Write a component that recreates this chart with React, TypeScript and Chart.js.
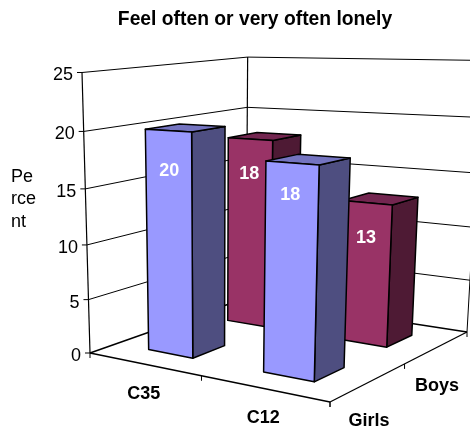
import React, { useEffect, useRef } from "react";
import { Chart, registerables } from "chart.js";

Chart.register(...registerables);

const titleText = "Feel often or very often lonely";
const categories = ["C35", "C12"];
const girls = [20, 18];
const boys = [18, 13];
const yTicks = { min: 0, max: 25, stepSize: 5 };
const axisTitleLines = ["Pe", "rce", "nt"];

type Pt = [number, number];
const FONT = '"Liberation Sans", Arial, sans-serif';

// Floor corners of the 3D box in canvas pixels, and how the value axis lifts them
const floorQuad: Pt[] = [[90, 353], [330, 402], [467, 332], [246, 298]];
const ceilingCorner: Pt = [82, 72.5];
const depthK = -0.06;

function homography(q: Pt[]) {
  const [[x0, y0], [x1, y1], [x2, y2], [x3, y3]] = q;
  const dx1 = x1 - x2, dx2 = x3 - x2, sx = x0 - x1 + x2 - x3;
  const dy1 = y1 - y2, dy2 = y3 - y2, sy = y0 - y1 + y2 - y3;
  const den = dx1 * dy2 - dx2 * dy1;
  const g = (sx * dy2 - dx2 * sy) / den;
  const h = (dx1 * sy - sx * dy1) / den;
  const a = x1 - x0 + g * x1, b = x3 - x0 + h * x3;
  const d = y1 - y0 + g * y1, e = y3 - y0 + h * y3;
  return { a, b, d, e, g, h, x0, y0 };
}
const H = homography(floorQuad);
const cx = ceilingCorner[0] * (1 + depthK) - floorQuad[0][0];
const cy = ceilingCorner[1] * (1 + depthK) - floorQuad[0][1];

const barWidthU = 0.4;
const barDepthV = 0.39;
const styles = [
  { front: "#9999FF", side: "#4E4E80", top: "#7474C0" },
  { front: "#993366", side: "#4E1A34", top: "#732650" },
];
const labelDrop = [[40, 32], [35, 35]];
const labelNudge = [[1, -2], [-1, -1]];

const box3d = {
  id: "box3d",
  afterDatasetsDraw(chart: any) {
    const ctx: CanvasRenderingContext2D = chart.ctx;
    const xs = chart.scales.x, ys = chart.scales.y;
    // u: 0..2 across categories, v: 0..2 front to back, z through the y scale
    const P = (u: number, v: number, z: number): Pt => {
      const t = (ys.bottom - ys.getPixelForValue(z)) / (ys.bottom - ys.top);
      const s = u / 2, r = v / 2;
      const w = H.g * s + H.h * r + 1 + depthK * t;
      return [
        (H.a * s + H.b * r + H.x0 + cx * t) / w,
        (H.d * s + H.e * r + H.y0 + cy * t) / w,
      ];
    };
    const line = (a: Pt, b: Pt, w = 1) => {
      ctx.lineWidth = w;
      ctx.strokeStyle = "#000";
      ctx.beginPath();
      ctx.moveTo(a[0], a[1]);
      ctx.lineTo(b[0], b[1]);
      ctx.stroke();
    };
    const poly = (pts: Pt[], fill: string) => {
      ctx.beginPath();
      pts.forEach((p, i) => (i ? ctx.lineTo(p[0], p[1]) : ctx.moveTo(p[0], p[1])));
      ctx.closePath();
      ctx.fillStyle = fill;
      ctx.fill();
      ctx.lineWidth = 1.5;
      ctx.strokeStyle = "#000";
      ctx.lineJoin = "round";
      ctx.stroke();
    };
    const nU = categories.length;
    const depthLabels = chart.data.datasets.map((d: any) => d.label);
    const nV = depthLabels.length;

    ctx.save();
    ys.ticks.forEach((tk: any) => {
      const z = tk.value;
      const a = P(0, 0, z), b = P(0, nV, z), c = P(nU, nV, z);
      line(a, b, z === 0 ? 1.5 : 1);
      line(b, c, z === 0 ? 1.5 : 1);
      line(a, [a[0] - 5, a[1]], 1);
      ctx.fillStyle = "#000";
      ctx.font = `18px ${FONT}`;
      ctx.textAlign = "right";
      ctx.textBaseline = "middle";
      ctx.fillText(String(z), a[0] - 9, a[1] + 3);
    });
    line(P(0, 0, 0), P(0, 0, ys.max), 1.2);
    line(P(0, nV, 0), P(0, nV, ys.max), 1.2);
    line(P(nU, nV, 0), P(nU, nV, ys.max), 1);
    line(P(0, 0, 0), P(nU, 0, 0), 1.3);
    line(P(nU, 0, 0), P(nU, nV, 0), 1.3);
    for (let i = 0; i <= nU; i++) {
      const p = P(i, 0, 0);
      line(p, [p[0], p[1] + 5], 1);
    }
    for (let i = 0; i <= nV; i++) {
      const p = P(nU, i, 0);
      line(p, [p[0], p[1] + 5], 1);
    }

    for (let s = nV - 1; s >= 0; s--) {
      const meta = chart.getDatasetMeta(s);
      for (let c = 0; c < nU; c++) {
        const val = meta._parsed[c].y;
        const uc = (xs.getPixelForValue(c) - xs.left) / xs.width * nU;
        const u0 = uc - barWidthU / 2, u1 = uc + barWidthU / 2;
        const v0 = s + 0.5 - barDepthV / 2, v1 = s + 0.5 + barDepthV / 2;
        const st = styles[s];
        poly([P(u1, v0, 0), P(u1, v1, 0), P(u1, v1, val), P(u1, v0, val)], st.side);
        poly([P(u0, v0, val), P(u1, v0, val), P(u1, v1, val), P(u0, v1, val)], st.top);
        poly([P(u0, v0, 0), P(u1, v0, 0), P(u1, v0, val), P(u0, v0, val)], st.front);
        const m = P(uc, v0, val);
        ctx.fillStyle = "#fff";
        ctx.font = `bold 18px ${FONT}`;
        ctx.textAlign = "center";
        ctx.textBaseline = "middle";
        ctx.fillText(String(val), m[0] + labelNudge[s][c], m[1] + labelDrop[s][c]);
      }
    }

    ctx.fillStyle = "#000";
    ctx.font = `bold 18px ${FONT}`;
    ctx.textBaseline = "middle";
    ctx.textAlign = "center";
    categories.forEach((name, i) => {
      const p = P(i + 0.5, 0, 0);
      ctx.fillText(xs.getLabelForValue(i), p[0], p[1] + 30);
    });
    depthLabels.forEach((name: string, i: number) => {
      const p = P(nU, i + 0.5, 0);
      ctx.fillText(name, p[0], p[1] + 39);
    });

    ctx.font = `18px ${FONT}`;
    ctx.textAlign = "left";
    axisTitleLines.forEach((t, i) => ctx.fillText(t, 11, 177 + i * 22.5));
    ctx.restore();
  },
};

export default function App() {
  const ref = useRef<HTMLCanvasElement>(null);
  useEffect(() => {
    document.body.style.margin = "0";
    const chart = new Chart(ref.current!, {
      type: "bar",
      data: {
        labels: categories,
        datasets: [
          { label: "Girls", data: girls, backgroundColor: "transparent", borderWidth: 0 },
          { label: "Boys", data: boys, backgroundColor: "transparent", borderWidth: 0 },
        ],
      },
      options: {
        responsive: false,
        animation: false,
        layout: { padding: { left: 40, right: 0, top: 0, bottom: 0 } },
        plugins: {
          legend: { display: false },
          tooltip: { enabled: false },
          title: {
            display: true,
            text: titleText,
            color: "#000",
            font: { family: FONT, size: 19.3, weight: "bold" },
            padding: { top: 8, bottom: 10 },
          },
        },
        scales: {
          x: { display: false },
          y: { display: false, min: yTicks.min, max: yTicks.max, ticks: { stepSize: yTicks.stepSize } },
        },
      },
      plugins: [box3d],
    } as any);
    return () => chart.destroy();
  }, []);
  return <canvas ref={ref} width={470} height={430} style={{ display: "block" }} />;
}
